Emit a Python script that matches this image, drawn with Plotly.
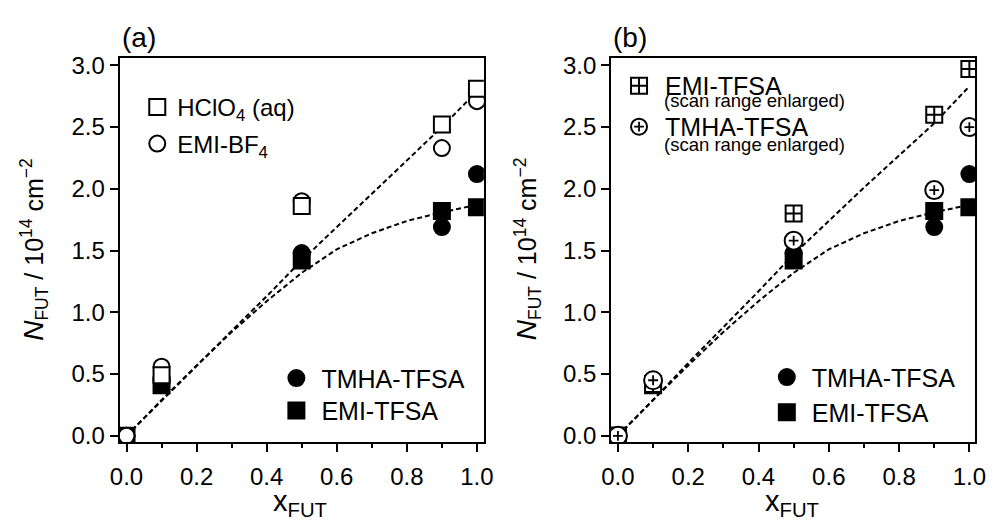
import plotly.graph_objects as go

# ---------------- data ----------------
x_frac = [0.0, 0.1, 0.5, 0.9, 1.0]
hclo4_x = [0.1, 0.5, 0.9, 1.0]
hclo4_y = [0.49, 1.86, 2.52, 2.81]
emi_bf4_y = [0.0, 0.56, 1.90, 2.33, 2.71]
tmha_tfsa_y = [0.0, 0.45, 1.48, 1.69, 2.12]
emi_tfsa_y = [0.0, 0.41, 1.42, 1.82, 1.85]
emi_tfsa_enl_y = [0.0, 0.42, 1.80, 2.60, 2.97]
tmha_tfsa_enl_y = [0.0, 0.45, 1.58, 1.99, 2.50]

fit_x = [0.0, 0.1, 0.2, 0.3, 0.4, 0.5, 0.6, 0.7, 0.8, 0.9, 1.0]
fit_upper_a = [0.0, 0.28, 0.565, 0.85, 1.13, 1.42, 1.69, 1.96, 2.23, 2.50, 2.79]
fit_upper_b = [0.0, 0.29, 0.59, 0.88, 1.17, 1.47, 1.74, 2.01, 2.27, 2.53, 2.83]
fit_lower = [0.0, 0.29, 0.57, 0.84, 1.09, 1.32, 1.51, 1.64, 1.74, 1.81, 1.87]

x_ticks = [0.0, 0.2, 0.4, 0.6, 0.8, 1.0]
y_ticks = [0.0, 0.5, 1.0, 1.5, 2.0, 2.5, 3.0]

FONT = "Liberation Sans, Arial, Helvetica, sans-serif"
W, H = 998, 527


def px(x):
    return x / W


def py(y):
    return 1 - y / H


fig = go.Figure()

dash_line = dict(color="black", width=2, dash="5px,3px")


def fit_trace(y, xa, ya):
    return go.Scatter(x=fit_x, y=y, mode="lines", line=dash_line,
                      xaxis=xa, yaxis=ya, showlegend=False, hoverinfo="skip")


def mk(symbol, fill, size=16, lw=2):
    return dict(symbol=symbol, size=size, color=fill,
                line=dict(color="black", width=lw))


# ----- panel (a) -----
fig.add_trace(fit_trace(fit_upper_a, "x", "y"))
fig.add_trace(fit_trace(fit_lower, "x", "y"))
fig.add_trace(go.Scatter(x=x_frac, y=tmha_tfsa_y, mode="markers", name="TMHA-TFSA",
                         marker=mk("circle", "black"), xaxis="x", yaxis="y", legend="legend3"))
fig.add_trace(go.Scatter(x=x_frac, y=emi_tfsa_y, mode="markers", name="EMI-TFSA",
                         marker=mk("square", "black"), xaxis="x", yaxis="y", legend="legend4"))
fig.add_trace(go.Scatter(x=x_frac, y=emi_bf4_y, mode="markers", name="EMI-BF<sub>4</sub>",
                         marker=mk("circle", "white"), xaxis="x", yaxis="y", legend="legend2"))
fig.add_trace(go.Scatter(x=hclo4_x, y=hclo4_y, mode="markers", name="HClO<sub>4</sub> (aq)",
                         marker=mk("square", "white"), xaxis="x", yaxis="y", legend="legend"))

# ----- panel (b) -----
fig.add_trace(fit_trace(fit_upper_b, "x2", "y2"))
fig.add_trace(fit_trace(fit_lower, "x2", "y2"))
fig.add_trace(go.Scatter(x=x_frac, y=tmha_tfsa_y, mode="markers", name="TMHA-TFSA",
                         marker=mk("circle", "black"), xaxis="x2", yaxis="y2", legend="legend8"))
fig.add_trace(go.Scatter(x=x_frac, y=emi_tfsa_y, mode="markers", name="EMI-TFSA",
                         marker=mk("square", "black"), xaxis="x2", yaxis="y2", legend="legend9"))
fig.add_trace(go.Scatter(x=x_frac, y=emi_tfsa_enl_y, mode="markers", name="EMI-TFSA",
                         marker=mk("square-cross", "white"), xaxis="x2", yaxis="y2", legend="legend5"))
fig.add_trace(go.Scatter(x=x_frac, y=tmha_tfsa_enl_y, mode="markers", name="TMHA-TFSA",
                         marker=mk("circle", "white", size=18), xaxis="x2", yaxis="y2", legend="legend6"))
fig.add_trace(go.Scatter(x=x_frac, y=tmha_tfsa_enl_y, mode="markers", name="TMHA-TFSA",
                         marker=dict(symbol="cross-thin", size=7, color="black",
                                     line=dict(color="black", width=1.8)),
                         xaxis="x2", yaxis="y2", legend="legend7"))


def leg(sym_x, sym_y, size, itemwidth=30, color="black"):
    center = (itemwidth + 10) / 2
    return dict(x=px(sym_x - center), y=py(sym_y), xanchor="left", yanchor="middle",
                bgcolor="rgba(0,0,0,0)", borderwidth=0, itemwidth=itemwidth,
                font=dict(family=FONT, size=size, color=color))


axis_common = dict(showline=True, linewidth=2, linecolor="black", mirror=True,
                   ticks="outside", ticklen=8, tickwidth=1.5, tickcolor="black",
                   showgrid=False, zeroline=False,
                   tickfont=dict(family=FONT, size=24, color="black"))

xdom_a = [px(112), px(484)]
xdom_b = [px(614), px(986)]
ydom = [py(447), py(53)]

xax = dict(axis_common, tickvals=x_ticks, tickformat=".1f", ticklabelstandoff=4,
           minor=dict(dtick=0.1, tick0=0, ticks="outside", ticklen=4, tickwidth=1.5,
                      tickcolor="black", showgrid=False))
yax = dict(axis_common, tickvals=y_ticks, tickformat=".1f", range=[-0.05, 3.062])

fig.update_layout(
    width=W, height=H, margin=dict(l=0, r=0, t=0, b=0),
    paper_bgcolor="white", plot_bgcolor="white",
    xaxis=dict(xax, domain=xdom_a, range=[-0.0196, 1.0196], anchor="y"),
    yaxis=dict(yax, domain=ydom, anchor="x"),
    xaxis2=dict(xax, domain=xdom_b, range=[-0.0195, 1.0167], anchor="y2"),
    yaxis2=dict(yax, domain=ydom, anchor="x2"),
    legend=leg(150, 104, 24),
    legend2=leg(150, 141.5, 24),
    legend3=leg(292, 381.7, 25, itemwidth=40),
    legend4=leg(292, 415, 25, itemwidth=40),
    legend5=leg(642, 82, 25, itemwidth=42),
    legend6=leg(642, 124, 25, itemwidth=42),
    legend7=leg(642, 124, 25, itemwidth=42, color="rgba(0,0,0,0)"),
    legend8=leg(793, 380.7, 25, itemwidth=40),
    legend9=leg(793, 416.7, 25, itemwidth=40),
    font=dict(family=FONT, color="black"),
)

ytitle = ('<span style="font-size:28px"><i>N</i></span><sub>FUT</sub> / 10<sup>14</sup> cm<sup>\u22122</sup>')
xtitle = 'x<sub>FUT</sub>'

ann = []
for lbl, lx in (("(a)", 112), ("(b)", 614)):
    ann.append(dict(text=lbl, x=px(lx), y=py(32), xref="paper", yref="paper",
                    xanchor="left", yanchor="middle", showarrow=False,
                    font=dict(family=FONT, size=28, color="black")))
for cx in (24.5, 528.5):
    ann.append(dict(text=ytitle, x=px(cx), y=py(249), xref="paper", yref="paper",
                    xanchor="center", yanchor="middle", textangle=-90, showarrow=False,
                    font=dict(family=FONT, size=25, color="black")))
for cx in (296, 799):
    ann.append(dict(text=xtitle, x=px(cx), y=py(510), xref="paper", yref="paper",
                    xanchor="center", yanchor="middle", showarrow=False,
                    font=dict(family=FONT, size=29, color="black")))
for cy in (97, 142):
    ann.append(dict(text="(scan range enlarged)", x=px(666), y=py(cy), xref="paper", yref="paper",
                    xanchor="left", yanchor="middle", showarrow=False,
                    font=dict(family=FONT, size=18.5, color="black")))
fig.update_layout(annotations=ann)

fig.write_html("out.html")
